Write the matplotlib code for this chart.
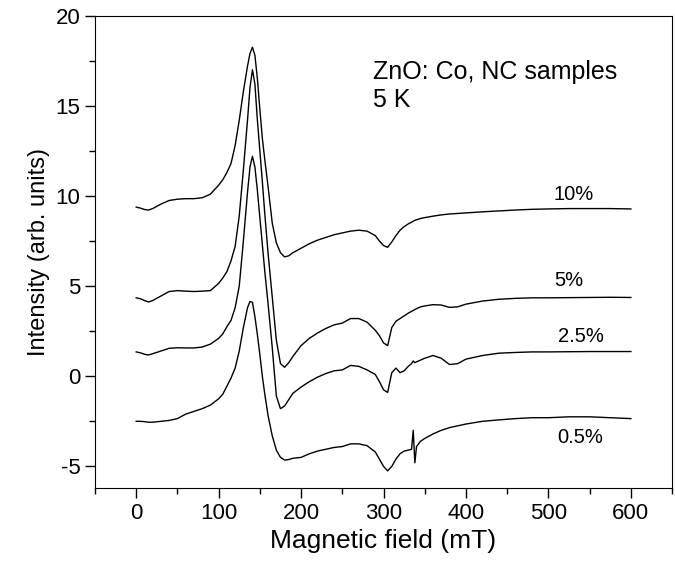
import matplotlib
matplotlib.use("Agg")
import matplotlib.pyplot as plt
from matplotlib.ticker import MultipleLocator

plt.rcParams['font.family'] = ['Liberation Sans', 'DejaVu Sans']
plt.rcParams['axes.unicode_minus'] = False

# magnetic field grid (mT), shared by all spectra
field = [0, 5, 10, 15, 20, 30, 40, 50, 60, 70, 80, 90, 100, 105, 110, 115, 120, 125,
         130, 135, 138, 141, 144, 147, 150, 153, 156, 160, 165, 170, 175, 180, 185, 190,
         200, 210, 220, 230, 240, 250, 260, 270, 280, 290, 295, 300, 305, 310, 315,
         320, 325, 330, 334, 336, 338, 340, 345, 350, 360, 370, 380, 390, 400, 420,
         440, 460, 480, 500, 525, 550, 575, 600]

co_10 = [9.38, 9.33, 9.25, 9.22, 9.3, 9.55, 9.75, 9.82, 9.85, 9.85, 9.9, 10.1, 10.6, 10.9,
         11.3, 11.8, 12.8, 14.2, 15.8, 17.2, 17.9, 18.25, 17.8, 16.5, 14.8, 13.2, 12.0,
         10.5, 8.5, 7.4, 6.85, 6.62, 6.68, 6.85,
         7.1, 7.35, 7.55, 7.7, 7.85, 7.95, 8.05, 8.1, 8.05, 7.8, 7.5, 7.25, 7.15, 7.45, 7.8,
         8.1, 8.3, 8.45, 8.55, 8.6, 8.65, 8.68, 8.75, 8.8, 8.88, 8.95, 9.0, 9.03, 9.06, 9.12,
         9.17, 9.22, 9.26, 9.28, 9.3, 9.3, 9.3, 9.28]

co_5 = [4.35, 4.3, 4.2, 4.12, 4.2, 4.45, 4.7, 4.75, 4.72, 4.7, 4.72, 4.75, 5.15, 5.45,
        5.8, 6.4, 7.2, 8.9, 11.45, 14.2, 16.0, 17.0, 16.2, 14.2, 12.5, 10.8, 9.0,
        6.8, 4.4, 2.0, 0.7, 0.5, 0.75, 1.1,
        1.7, 2.1, 2.4, 2.65, 2.85, 2.95, 3.2, 3.2, 3.0, 2.55, 2.25, 1.85, 1.7, 2.7, 3.05,
        3.2, 3.35, 3.5, 3.6, 3.65, 3.7, 3.75, 3.85, 3.9, 3.97, 3.95, 3.82, 3.85, 4.0, 4.17,
        4.27, 4.32, 4.35, 4.35, 4.36, 4.37, 4.38, 4.37]

co_2_5 = [1.35, 1.3, 1.22, 1.18, 1.25, 1.4, 1.55, 1.58, 1.57, 1.57, 1.62, 1.78, 2.1, 2.35,
          2.75, 3.1, 3.8, 5.0, 7.5, 10.2, 11.6, 12.2, 11.6, 10.3, 8.8, 7.3, 5.8,
          4.0, 1.6, -1.1, -1.8, -1.65, -1.3, -0.95,
          -0.6, -0.3, -0.05, 0.15, 0.3, 0.35, 0.6, 0.55, 0.35, 0.1, -0.3, -0.75, -0.9, 0.2, 0.45,
          0.2, 0.3, 0.55, 0.7, 0.85, 0.75, 0.8, 0.9, 1.0, 1.15, 1.0, 0.65, 0.7, 0.95, 1.15,
          1.28, 1.32, 1.35, 1.35, 1.36, 1.37, 1.37, 1.37]

co_0_5 = [-2.5, -2.5, -2.52, -2.55, -2.55, -2.5, -2.45, -2.35, -2.1, -1.95, -1.8, -1.6, -1.25, -1.0,
          -0.55, -0.1, 0.45, 1.4, 2.7, 3.8, 4.15, 4.1, 3.3, 2.3, 1.2, 0.0, -1.0,
          -2.2, -3.3, -4.1, -4.5, -4.65, -4.62, -4.55,
          -4.5, -4.3, -4.15, -4.05, -3.95, -3.9, -3.75, -3.75, -3.85, -4.2, -4.6, -5.0, -5.25, -5.0, -4.6,
          -4.3, -4.15, -4.1, -4.05, -3.0, -4.8, -3.9, -3.6, -3.45, -3.2, -3.0, -2.85, -2.75, -2.65, -2.5,
          -2.42, -2.35, -2.3, -2.3, -2.25, -2.25, -2.3, -2.35]

labels = ['10%', '5%', '2.5%', '0.5%']
label_x = [530, 525, 539, 539]
label_y = [10.06, 5.3, 2.2, -3.4]

fig = plt.figure(figsize=(6.75, 5.68), dpi=100)
ax = fig.add_axes([0.1407, 0.1408, 0.855, 0.8316])

for y in [co_10, co_5, co_2_5, co_0_5]:
    ax.plot(field, y, color='black', lw=1.0)

for t, lx, ly in zip(labels, label_x, label_y):
    ax.text(lx, ly, t, ha='center', va='center', fontsize=14.5)

ax.text(287, 16.88, 'ZnO: Co, NC samples', ha='left', va='center', fontsize=18)
ax.text(287, 15.32, '5 K', ha='left', va='center', fontsize=18)

ax.set_xlim(-50, 650)
ax.set_ylim(-6.2, 20)
ax.xaxis.set_major_locator(MultipleLocator(100))
ax.xaxis.set_minor_locator(MultipleLocator(50))
ax.yaxis.set_major_locator(MultipleLocator(5))
ax.yaxis.set_minor_locator(MultipleLocator(2.5))
ax.tick_params(which='major', direction='out', length=7, width=1, labelsize=16)
ax.tick_params(which='minor', direction='out', length=4, width=1)
ax.set_xlabel('Magnetic field (mT)', fontsize=19)
ax.set_ylabel('Intensity (arb. units)', fontsize=17, labelpad=4)

fig.savefig('out.png', dpi=100)
